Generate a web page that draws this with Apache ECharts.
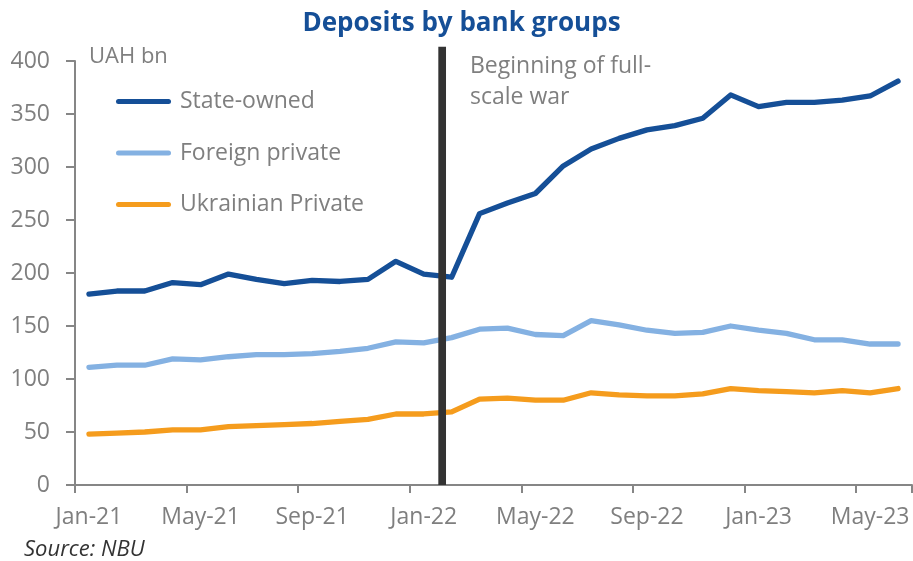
<!DOCTYPE html>
<html>
<head>
<meta charset="utf-8">
<title>Deposits by bank groups</title>
<script src="https://cdn.jsdelivr.net/npm/echarts@6/dist/echarts.min.js"></script>
<style>
  html, body { margin: 0; padding: 0; background: #ffffff; }
  #chart { width: 913px; height: 561px; }
</style>
</head>
<body>
<div id="chart"></div>
<script>
// Monthly deposits, UAH bn
const months = [
  'Jan-21', 'Feb-21', 'Mar-21', 'Apr-21', 'May-21', 'Jun-21', 'Jul-21', 'Aug-21', 'Sep-21', 'Oct-21', 'Nov-21', 'Dec-21',
  'Jan-22', 'Feb-22', 'Mar-22', 'Apr-22', 'May-22', 'Jun-22', 'Jul-22', 'Aug-22', 'Sep-22', 'Oct-22', 'Nov-22', 'Dec-22',
  'Jan-23', 'Feb-23', 'Mar-23', 'Apr-23', 'May-23', 'Jun-23'
];
const stateOwned = [
  180, 183, 183, 191, 189, 199, 194, 190, 193, 192, 194, 211,
  199, 196, 256, 266, 275, 301, 317, 327, 335, 339, 346, 368,
  357, 361, 361, 363, 367, 381
];
const foreignPrivate = [
  111, 113, 113, 119, 118, 121, 123, 123, 124, 126, 129, 135,
  134, 139, 147, 148, 142, 141, 155, 151, 146, 143, 144, 150,
  146, 143, 137, 137, 133, 133
];
const ukrainianPrivate = [
  48, 49, 50, 52, 52, 55, 56, 57, 58, 60, 62, 67,
  67, 69, 81, 82, 80, 80, 87, 85, 84, 84, 86, 91,
  89, 88, 87, 89, 87, 91
];
const seriesNames = ['State-owned', 'Foreign private', 'Ukrainian Private'];
const yTicks = { min: 0, max: 400, step: 50 };
// Start of the full-scale war, measured in months from the start of Jan-21
const warMarker = { month: 13.16, from: 0, to: 413.5 };

const FONT = '"Open Sans", sans-serif';
const GRAY = '#7f7f7f';
const AXIS = '#868686';
const COLORS = ['#154f97', '#84b1e2', '#f59c1d'];

const chart = echarts.init(document.getElementById('chart'), null, { renderer: 'canvas' });

const lineSeries = [stateOwned, foreignPrivate, ukrainianPrivate].map((values, i) => ({
  name: seriesNames[i],
  type: 'line',
  data: values,
  symbol: 'none',
  color: COLORS[i],
  lineStyle: { width: 5.3, cap: 'round', join: 'round', color: COLORS[i] },
  z: 3 - i
}));

const option = {
  animation: false,
  backgroundColor: '#ffffff',
  textStyle: { fontFamily: FONT },
  grid: { left: 75, top: 61, width: 837, height: 424, containLabel: false },
  legend: {
    orient: 'vertical',
    left: 116,
    top: 90,
    padding: 0,
    itemWidth: 55,
    itemHeight: 5,
    itemGap: 28.5,
    icon: 'path://M2.5 0H52.5A2.5 2.5 0 0 1 52.5 5H2.5A2.5 2.5 0 0 1 2.5 0Z',
    data: seriesNames,
    selectedMode: false,
    textStyle: { fontFamily: FONT, fontSize: 23, color: GRAY, lineHeight: 20, padding: [0, 0, 0, 4] }
  },
  xAxis: [
    {
      type: 'category',
      data: months,
      boundaryGap: true,
      axisLine: { lineStyle: { color: AXIS, width: 2 } },
      axisTick: { show: true, interval: 3, length: 8, lineStyle: { color: AXIS, width: 2 } },
      axisLabel: { interval: 3, color: GRAY, fontFamily: FONT, fontSize: 23, margin: 21 },
      splitLine: { show: false }
    },
    {
      type: 'value',
      min: 0,
      max: months.length,
      show: false
    }
  ],
  yAxis: {
    type: 'value',
    min: yTicks.min,
    max: yTicks.max,
    interval: yTicks.step,
    axisLine: { show: true, lineStyle: { color: AXIS, width: 2 } },
    axisTick: { show: true, length: 9, lineStyle: { color: AXIS, width: 2 } },
    axisLabel: { color: GRAY, fontFamily: FONT, fontSize: 23, margin: 25 },
    splitLine: { show: false }
  },
  series: lineSeries.concat([{
    name: 'war',
    type: 'custom',
    xAxisIndex: 1,
    yAxisIndex: 0,
    clip: false,
    silent: true,
    z: 10,
    data: [[warMarker.month, warMarker.from, warMarker.to]],
    encode: { x: 0, y: [1, 2] },
    renderItem: function (params, api) {
      const bottom = api.coord([api.value(0), api.value(1)]);
      const top = api.coord([api.value(0), api.value(2)]);
      const w = 7.7;
      return {
        type: 'rect',
        shape: { x: bottom[0] - w / 2, y: top[1], width: w, height: bottom[1] - top[1] },
        style: { fill: '#333333' }
      };
    }
  }]),
  graphic: [
    {
      type: 'text', x: 461.5, y: 24,
      style: { text: 'Deposits by bank groups', fontFamily: FONT, fontSize: 26, fontWeight: 'bold',
        fill: '#154f97', align: 'center', verticalAlign: 'middle' }
    },
    {
      type: 'text', x: 89, y: 57,
      style: { text: 'UAH bn', fontFamily: FONT, fontSize: 22, fill: GRAY, align: 'left', verticalAlign: 'middle' }
    },
    {
      type: 'text', x: 470, y: 66,
      style: { text: 'Beginning of full-', fontFamily: FONT, fontSize: 23, fill: GRAY, align: 'left', verticalAlign: 'middle' }
    },
    {
      type: 'text', x: 470, y: 97,
      style: { text: 'scale war', fontFamily: FONT, fontSize: 23, fill: GRAY, align: 'left', verticalAlign: 'middle' }
    },
    {
      type: 'text', x: 24, y: 550,
      style: { text: 'Source: NBU', fontFamily: FONT, fontSize: 22, fontStyle: 'italic', fill: '#333333',
        align: 'left', verticalAlign: 'middle' }
    }
  ]
};

chart.setOption(option);
</script>
</body>
</html>
